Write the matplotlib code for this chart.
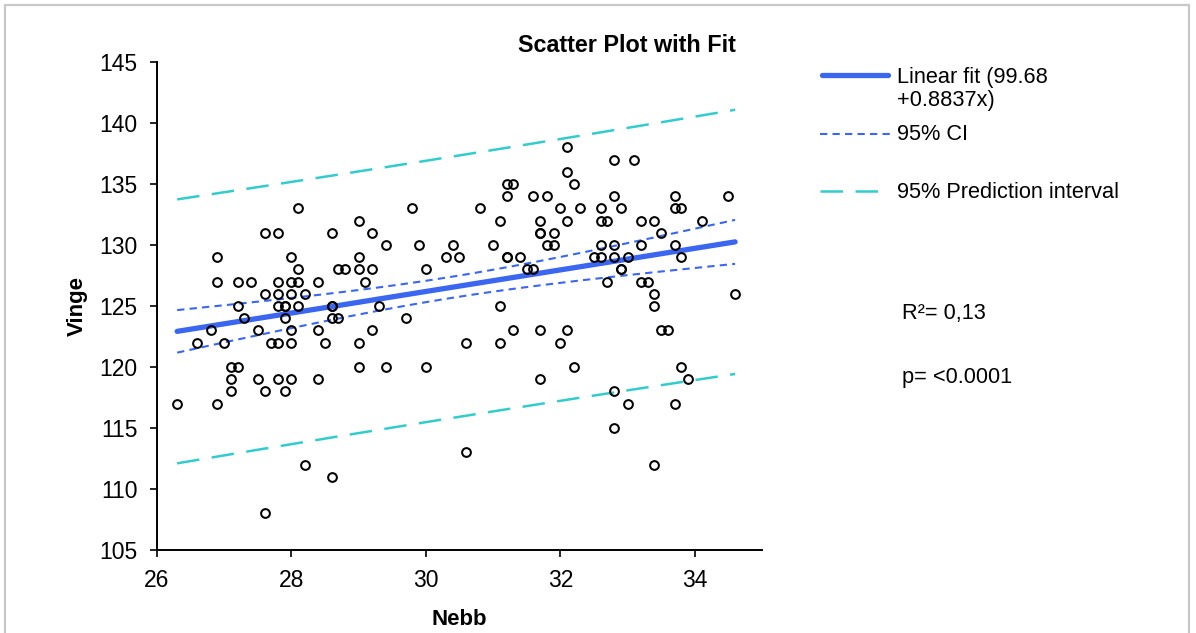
import numpy as np
import matplotlib
matplotlib.use("Agg")
import matplotlib.pyplot as plt
from matplotlib.lines import Line2D
from matplotlib.patches import Rectangle

plt.rcParams['font.family'] = ['Liberation Sans', 'DejaVu Sans']

# Observations: Nebb (x) and Vinge (y)
nebb = [
    26.3, 26.6, 26.8,
    26.9, 26.9, 26.9,
    27.0,
    27.1, 27.1, 27.1,
    27.2, 27.2, 27.2,
    27.3, 27.4,
    27.5, 27.5,
    27.6, 27.6, 27.6, 27.6,
    27.7,
    27.8, 27.8, 27.8, 27.8, 27.8, 27.8,
    27.9, 27.9, 27.9, 27.9,
    28.0, 28.0, 28.0, 28.0, 28.0, 28.0,
    28.1, 28.1, 28.1, 28.1,
    28.2, 28.2,
    28.4, 28.4, 28.4,
    28.5,
    28.6, 28.6, 28.6, 28.6, 28.6,
    28.7, 28.7,
    28.8,
    29.0, 29.0, 29.0, 29.0, 29.0,
    29.1,
    29.2, 29.2, 29.2,
    29.3,
    29.4, 29.4,
    29.7, 29.8, 29.9,
    30.0, 30.0,
    30.3, 30.4, 30.5,
    30.6, 30.6,
    30.8, 31.0,
    31.1, 31.1, 31.1,
    31.2, 31.2, 31.2, 31.2,
    31.3, 31.3,
    31.4, 31.5,
    31.6, 31.6,
    31.7, 31.7, 31.7, 31.7, 31.7,
    31.8, 31.8,
    31.9, 31.9,
    32.0, 32.0,
    32.1, 32.1, 32.1, 32.1,
    32.2, 32.2,
    32.3, 32.5,
    32.6, 32.6, 32.6, 32.6,
    32.7, 32.7,
    32.8, 32.8, 32.8, 32.8, 32.8, 32.8,
    32.9, 32.9, 32.9,
    33.0, 33.0,
    33.1,
    33.2, 33.2, 33.2,
    33.3,
    33.4, 33.4, 33.4, 33.4,
    33.5, 33.5,
    33.6,
    33.7, 33.7, 33.7, 33.7,
    33.8, 33.8, 33.8,
    33.9, 34.1, 34.5, 34.6,
]
vinge = [
    117, 122, 123,
    129, 127, 117,
    122,
    120, 119, 118,
    127, 125, 120,
    124, 127,
    123, 119,
    131, 126, 118, 108,
    122,
    131, 127, 126, 125, 122, 119,
    125, 125, 124, 118,
    129, 127, 126, 123, 122, 119,
    133, 128, 127, 125,
    126, 112,
    127, 123, 119,
    122,
    131, 125, 125, 124, 111,
    128, 124,
    128,
    132, 129, 128, 122, 120,
    127,
    131, 128, 123,
    125,
    130, 120,
    124, 133, 130,
    128, 120,
    129, 130, 129,
    122, 113,
    133, 130,
    132, 125, 122,
    135, 134, 129, 129,
    135, 123,
    129, 128,
    134, 128,
    132, 131, 131, 123, 119,
    134, 130,
    131, 130,
    133, 122,
    138, 136, 132, 123,
    135, 120,
    133, 129,
    133, 132, 130, 129,
    132, 127,
    137, 134, 130, 129, 118, 115,
    133, 128, 128,
    129, 117,
    137,
    132, 130, 127,
    127,
    132, 126, 125, 112,
    131, 123,
    123,
    134, 133, 130, 117,
    133, 129, 120,
    119, 132, 134, 126,
]

# Reported regression results
intercept = 99.68
slope = 0.8837
r_squared_text = "0,13"
p_value_text = "<0.0001"

x = np.array(nebb, dtype=float)
y = np.array(vinge, dtype=float)
n = len(x)

# Confidence and prediction bands around the reported line
resid = y - (intercept + slope * x)
s = np.sqrt(np.sum(resid ** 2) / (n - 2))
xbar = x.mean()
sxx = np.sum((x - xbar) ** 2)
t_crit = 1.976
xs = np.linspace(x.min(), x.max(), 200)
fit = intercept + slope * xs
se_mean = s * np.sqrt(1.0 / n + (xs - xbar) ** 2 / sxx)
se_pred = np.sqrt(s ** 2 + se_mean ** 2)
ci_lo, ci_hi = fit - t_crit * se_mean, fit + t_crit * se_mean
pi_lo, pi_hi = fit - t_crit * se_pred, fit + t_crit * se_pred

W, H = 1196, 633
fig = plt.figure(figsize=(W / 100, H / 100), dpi=100)
ax = fig.add_axes([157 / W, 1 - 550 / H, (762 - 157) / W, (550 - 62) / H])

fit_color = "#3a66f0"
ci_color = "#3a66f0"
pi_color = "#33cccc"
fs = 16

ax.plot(xs, pi_hi, color=pi_color, lw=1.8, dashes=(9, 5))
ax.plot(xs, pi_lo, color=pi_color, lw=1.8, dashes=(9, 5))
ax.plot(xs, ci_hi, color=ci_color, lw=1.5, dashes=(3.5, 2.5))
ax.plot(xs, ci_lo, color=ci_color, lw=1.5, dashes=(3.5, 2.5))
ax.plot(xs, fit, color=fit_color, lw=3.8, solid_capstyle='round')
ax.plot(x, y, linestyle='none', marker='o', markersize=6.3,
        markerfacecolor='none', markeredgecolor='black', markeredgewidth=1.45)

ax.set_xlim(26, 35)
ax.set_ylim(105, 145)
ax.set_xticks([26, 28, 30, 32, 34])
ax.set_yticks(np.arange(105, 146, 5))
for side in ('top', 'right'):
    ax.spines[side].set_visible(False)
for side in ('left', 'bottom'):
    ax.spines[side].set_linewidth(1.4)
ax.tick_params(axis='both', direction='out', length=5, width=1.2,
               labelsize=16.5, pad=9, colors='black')

ax.set_xlabel("Nebb", fontsize=fs, fontweight='bold', labelpad=12)
ax.set_ylabel("Vinge", fontsize=fs, fontweight='bold', labelpad=8)

fig.text(627 / W, 1 - 45 / H, "Scatter Plot with Fit", ha='center', va='center',
         fontsize=16.8, fontweight='bold')

# Legend drawn in figure pixels
def fy(py):
    return 1 - py / H

fig.add_artist(Line2D([822 / W, 888 / W], [fy(75), fy(75)], color=fit_color,
                      lw=3.8, solid_capstyle='round'))
fig.add_artist(Line2D([820 / W, 890 / W], [fy(134), fy(134)], color=ci_color,
                      lw=1.5, dashes=(3.5, 2.5)))
fig.add_artist(Line2D([820 / W, 890 / W], [fy(191), fy(191)], color=pi_color,
                      lw=1.8, dashes=(9, 5)))
fig.text(897 / W, fy(89), "Linear fit (99.68\n+0.8837x)", ha='left', va='center',
         fontsize=15.7, linespacing=1.12)
fig.text(897 / W, fy(135), "95% CI", ha='left', va='center', fontsize=15.7)
fig.text(897 / W, fy(192), "95% Prediction interval", ha='left', va='center',
         fontsize=15.7)

fig.text(902 / W, fy(313), "R\u00b2= " + r_squared_text, ha='left', va='center',
         fontsize=15.7)
fig.text(902 / W, fy(378), "p= " + p_value_text, ha='left', va='center',
         fontsize=15.7)

# Light frame around the figure
fig.add_artist(Rectangle((5 / W, -0.05), (1189 - 5) / W, 1 - 5 / H + 0.05,
                         transform=fig.transFigure, fill=False,
                         edgecolor='#c8c8c8', lw=1.6))

fig.savefig("out.png", dpi=100)
